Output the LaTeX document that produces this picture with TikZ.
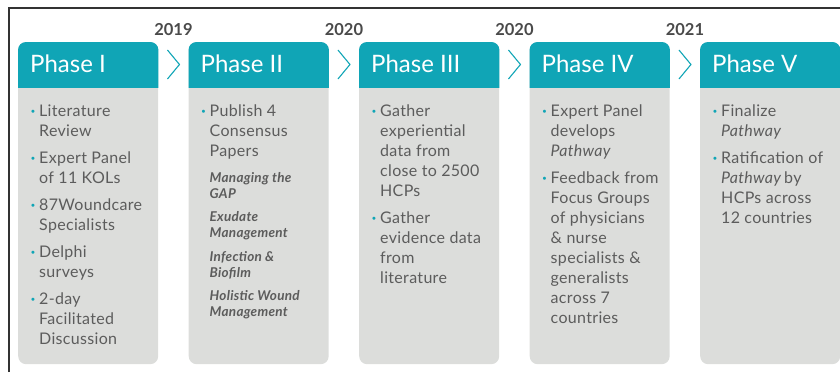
\documentclass[tikz,border=0pt]{standalone}
\usepackage{fontspec}
\setmainfont{Lato}
\usetikzlibrary{calc}
\definecolor{tealc}{HTML}{10A5B6}
\definecolor{bodyc}{HTML}{DCDDDB}
\definecolor{txtc}{HTML}{5C5C5C}
\definecolor{yearc}{HTML}{4A4A4A}
\definecolor{framec}{HTML}{333333}

% teal bullet hanging to the left of an item
\newcommand\bul{\leavevmode\llap{\textcolor{tealc}{\textbf{·}}\hspace{3.5pt}}}

\begin{document}
\begin{tikzpicture}[x=1pt,y=-1pt,
  panel/.style={fill=bodyc, rounded corners=8pt, minimum width=140pt, minimum height=322pt,
    anchor=north west, inner sep=0pt, draw=none},
  headtxt/.style={text=white, font=\fontsize{24}{28}\selectfont, anchor=base west, inner sep=0pt},
  bodytxt/.style={text=txtc, font=\fontsize{16}{20}\selectfont\addfontfeature{LetterSpace=2}, align=left, anchor=north west, inner sep=0pt},
  subtxt/.style={text=txtc, font=\fontsize{13.5}{16}\selectfont\bfseries\itshape\addfontfeature{LetterSpace=2}, align=left, anchor=north west, inner sep=0pt},
  yeartxt/.style={text=yearc, font=\fontsize{16.5}{20}\selectfont\bfseries, anchor=base, inner sep=0pt},
  chev/.style={draw=tealc, line width=1.1pt, line join=miter}
]
\useasboundingbox (0,0) rectangle (840,372);
\draw[framec, line width=1.2pt] (9,372) -- (9,8) -- (840,8);

% five phase panels with teal headers
\foreach \i/\t in {1/I,2/II,3/III,4/IV,5/V} {
  \pgfmathsetmacro\xx{18+170.5*(\i-1)}
  \node[panel] (p\i) at (\xx,42) {};
  \begin{scope}
    \clip (p\i.north west) rectangle ([yshift=-45pt]p\i.north east);
    \fill[tealc, rounded corners=8pt] (p\i.north west) rectangle (p\i.south east);
  \end{scope}
  \node[headtxt] (h\i) at ([xshift=12pt,yshift=-30pt]p\i.north west) {Phase \t};
}

% years and chevrons between panels
\foreach \a/\b/\yr in {1/2/2019,2/3/2020,3/4/2020,4/5/2021} {
  \node[yeartxt] (y\a) at ($(p\a.north east)!0.5!(p\b.north west)+(0,-7)$) {\yr};
  \coordinate (c\a) at ($(p\a.north east)!0.5!(p\b.north west)+(0,22.5)$);
  \draw[chev] ($(c\a)+(-6,-14.5)$) -- ($(c\a)+(6,0)$) -- ($(c\a)+(-6,14.5)$);
}

% panel contents
\node[bodytxt] (t1) at ([xshift=21pt,yshift=-60pt]p1.north west) {\strut\bul Literature\\ Review\\[7pt]
  \bul Expert Panel\\ of 11 KOLs\\[7pt]
  \bul 87Woundcare\\ Specialists\\[7pt]
  \bul Delphi\\ surveys\\[7pt]
  \bul 2-day\\ Facilitated\\ Discussion};

\node[bodytxt] (t2) at ([xshift=21pt,yshift=-60pt]p2.north west) {\strut\bul Publish 4\\ Consensus\\ Papers};
\node[subtxt] (s2) at ([xshift=21pt,yshift=-128.8pt]p2.north west) {\strut Managing the\\ GAP\\[7.5pt]
  Exudate\\ Management\\[7.5pt]
  Infection \&\\ Biofilm\\[7.5pt]
  Holistic Wound\\ Management};

\node[bodytxt] (t3) at ([xshift=21pt,yshift=-60pt]p3.north west) {\strut\bul Gather\\ experiential\\ data from\\ close to 2500\\ HCPs\\[7pt]
  \bul Gather\\ evidence data\\ from\\ literature};

\node[bodytxt] (t4) at ([xshift=21pt,yshift=-60pt]p4.north west) {\strut\bul Expert Panel\\ develops\\ \textit{Pathway}\\[7pt]
  \bul Feedback from\\ Focus Groups\\ of physicians\\ \& nurse\\ specialists \&\\ generalists\\ across 7\\ countries};

\node[bodytxt] (t5) at ([xshift=21pt,yshift=-60pt]p5.north west) {\strut\bul Finalize\\ \textit{Pathway}\\[7pt]
  \bul Ratification of\\ \textit{Pathway}\,by\\ HCPs across\\ 12 countries};
\end{tikzpicture}
\end{document}
